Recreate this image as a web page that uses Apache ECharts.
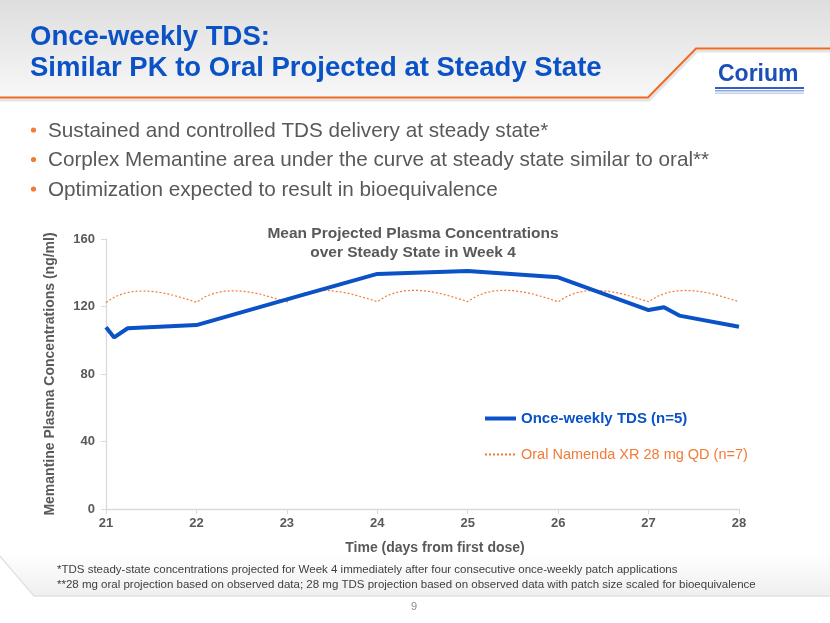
<!DOCTYPE html>
<html>
<head>
<meta charset="utf-8">
<script src="https://cdn.jsdelivr.net/npm/echarts@6/dist/echarts.min.js"></script>
<style>
html,body{margin:0;padding:0;background:#fff;}
#main{width:830px;height:623px;}
</style>
</head>
<body>
<div id="main"></div>
<script>
// ---- Data ----
const titleLines = ['Once-weekly TDS:', 'Similar PK to Oral Projected at Steady State'];
const bullets = [
  'Sustained and controlled TDS delivery at steady state*',
  'Corplex Memantine area under the curve at steady state similar to oral**',
  'Optimization expected to result in bioequivalence'
];
const chartTitle = 'Mean Projected Plasma Concentrations\nover Steady State in Week 4';
const yAxisName = 'Memantine Plasma Concentrations (ng/ml)';
const xAxisName = 'Time (days from first dose)';
const seriesNames = ['Once-weekly TDS (n=5)', 'Oral Namenda XR 28 mg QD (n=7)'];
const footnotes = [
  '*TDS steady-state concentrations projected for Week 4 immediately after four consecutive once-weekly patch applications',
  '**28 mg oral projection based on observed data; 28 mg TDS projection based on observed data with patch size scaled for bioequivalence'
];
const pageNumber = '9';

// Once-weekly TDS: [day, ng/ml]
const tdsDays   = [21, 21.09, 21.24, 22, 23, 24, 25, 26, 27, 27.17, 27.34, 28];
const tdsValues = [107.7, 101.7, 107.1, 109.0, 124.2, 139.3, 141.0, 137.3, 117.9, 119.5, 114.6, 108.0];

// Oral once-daily: values sampled at fixed offsets within each day
const oralOffsets = [0, 0.1, 0.2, 0.3, 0.4, 0.5, 0.6, 0.7, 0.8, 0.9];
const oralStartDays = [21, 22, 23, 24, 25, 26, 27];
const oralDay21 = [122.4, 125.8, 127.8, 128.9, 129.2, 129.0, 128.3, 127.3, 125.8, 124.2];
const oralDay22 = [122.5, 125.9, 127.9, 129.0, 129.3, 129.1, 128.4, 127.4, 125.9, 124.3];
const oralDay23 = [122.7, 126.1, 128.1, 129.2, 129.5, 129.3, 128.6, 127.6, 126.1, 124.6];
const oralDay24 = [122.9, 126.2, 128.2, 129.3, 129.6, 129.4, 128.7, 127.7, 126.2, 124.6];
const oralDay25 = [122.9, 126.2, 128.2, 129.3, 129.6, 129.4, 128.7, 127.7, 126.2, 124.6];
const oralDay26 = [122.8, 126.1, 128.1, 129.2, 129.5, 129.3, 128.6, 127.6, 126.1, 124.5];
const oralDay27 = [122.8, 126.1, 128.1, 129.2, 129.5, 129.3, 128.6, 127.6, 126.1, 124.5];
const oralEnd = [28, 122.9];

// ---- Build series data ----
const tdsData = tdsDays.map((d, i) => [d, tdsValues[i]]);
const oralRows = [oralDay21, oralDay22, oralDay23, oralDay24, oralDay25, oralDay26, oralDay27];
const oralData = [];
oralRows.forEach((row, k) => {
  row.forEach((v, j) => oralData.push([+(oralStartDays[k] + oralOffsets[j]).toFixed(2), v]));
});
oralData.push(oralEnd);

const FONT = '"Liberation Sans", Arial, sans-serif';
const GRAY = '#595959';
const BLUE = '#0A52C6';
const ORANGE = '#F47A36';

const chart = echarts.init(document.getElementById('main'), null, {renderer: 'canvas'});

const graphics = [
  // header background
  { type: 'polygon', z: -10, silent: true,
    shape: { points: [[0,0],[830,0],[830,48],[696,48],[648,97],[0,97]] },
    style: { fill: new echarts.graphic.LinearGradient(0, 0, 0, 1, [
      {offset: 0, color: '#DEDEDE'}, {offset: 1, color: '#F7F7F7'}]) } },
  // shadow under orange line
  { type: 'polyline', z: -9, silent: true,
    shape: { points: [[0,100],[649,100],[697,51],[830,51]] },
    style: { stroke: '#E4E4E4', lineWidth: 3, fill: null } },
  // orange line
  { type: 'polyline', z: -8, silent: true,
    shape: { points: [[0,97.5],[648,97.5],[696,48.5],[830,48.5]] },
    style: { stroke: '#EE6A24', lineWidth: 2, fill: null } },
  // footer panel
  { type: 'polygon', z: -10, silent: true,
    shape: { points: [[0,553],[830,553],[830,596],[34,596]] },
    style: { fill: new echarts.graphic.LinearGradient(0, 0, 0, 1, [
      {offset: 0, color: '#FFFFFF'}, {offset: 1, color: '#EFEFEF'}]) } },
  { type: 'polyline', z: -9, silent: true,
    shape: { points: [[0,556],[34,596],[830,596]] },
    style: { stroke: '#E2E2E2', lineWidth: 1.5, fill: null } },
  // title
  { type: 'text', x: 30, y: 37,
    style: { text: titleLines[0], font: 'bold 27.5px ' + FONT, fill: BLUE, verticalAlign: 'middle' } },
  { type: 'text', x: 30, y: 68,
    style: { text: titleLines[1], font: 'bold 27.5px ' + FONT, fill: BLUE, verticalAlign: 'middle' } },
  // logo
  { type: 'text', left: 718, top: 63,
    style: { text: 'Corium', font: 'bold 23px ' + FONT, fill: '#1B4FB8' } },
  { type: 'rect', shape: { x: 715, y: 87, width: 89, height: 2 }, style: { fill: '#2F5FC0' } },
  { type: 'rect', shape: { x: 715, y: 90, width: 89, height: 1.5 }, style: { fill: '#8FA8DD' } },
  { type: 'rect', shape: { x: 715, y: 92.5, width: 89, height: 1.5 }, style: { fill: '#C5D2EE' } },
  // x-axis title
  { type: 'text', x: 435, y: 548,
    style: { text: xAxisName, font: 'bold 14px ' + FONT, fill: GRAY, align: 'center', verticalAlign: 'middle' } },
  // page number
  { type: 'text', left: 411, top: 601,
    style: { text: pageNumber, font: '11px ' + FONT, fill: '#8C8C8C' } }
];

bullets.forEach((b, i) => {
  const cy = 130 + i * 29.5;
  graphics.push({ type: 'circle', shape: { cx: 33.5, cy: cy, r: 2.6 }, style: { fill: ORANGE } });
  graphics.push({ type: 'text', x: 48, y: cy + 1,
    style: { text: b, font: '20.7px ' + FONT, fill: GRAY, verticalAlign: 'middle' } });
});
footnotes.forEach((f, i) => {
  graphics.push({ type: 'text', x: 57, y: 570 + i * 15,
    style: { text: f, font: '11.5px ' + FONT, fill: '#404040', verticalAlign: 'middle' } });
});

const option = {
  backgroundColor: '#ffffff',
  animation: false,
  textStyle: { fontFamily: FONT },
  title: {
    text: chartTitle, left: 408, top: 219, textAlign: 'center',
    textStyle: { fontSize: 15.5, fontWeight: 'bold', color: GRAY, lineHeight: 19, fontFamily: FONT }
  },
  grid: { left: 106, right: 91, top: 239, bottom: 114, containLabel: false },
  legend: {
    orient: 'vertical', left: 478, top: 406, itemGap: 21, itemWidth: 31, itemHeight: 12,
    itemStyle: { opacity: 0 },
    data: [
      { name: seriesNames[0], lineStyle: { width: 4 },
        textStyle: { color: BLUE, fontWeight: 'bold', fontSize: 15 } },
      { name: seriesNames[1], textStyle: { color: ORANGE, fontWeight: 'normal', fontSize: 14.5 } }
    ],
    textStyle: { fontFamily: FONT }
  },
  xAxis: {
    type: 'value', min: 21, max: 28, interval: 1,
    axisLine: { lineStyle: { color: '#D9D9D9', width: 1.3 } },
    axisTick: { show: true, length: 5, lineStyle: { color: '#D9D9D9' } },
    axisLabel: { fontSize: 13, fontWeight: 'bold', color: GRAY, margin: 8, fontFamily: FONT },
    splitLine: { show: false }
  },
  yAxis: {
    type: 'value', min: 0, max: 160, interval: 40,
    name: yAxisName, nameLocation: 'middle', nameGap: 49, nameRotate: 90,
    nameTextStyle: { fontSize: 14, fontWeight: 'bold', color: GRAY, fontFamily: FONT },
    axisLine: { show: true, lineStyle: { color: '#D9D9D9', width: 1.3 } },
    axisTick: { show: true, length: 5, lineStyle: { color: '#D9D9D9' } },
    axisLabel: { fontSize: 13, fontWeight: 'bold', color: GRAY, margin: 11, fontFamily: FONT },
    splitLine: { show: false }
  },
  series: [
    { name: seriesNames[0], type: 'line', data: tdsData, symbol: 'none', z: 3,
      lineStyle: { color: BLUE, width: 4 }, itemStyle: { color: BLUE } },
    { name: seriesNames[1], type: 'line', data: oralData, symbol: 'none', z: 2,
      lineStyle: { color: ORANGE, width: 1.2, type: [2, 2] }, itemStyle: { color: ORANGE } }
  ],
  graphic: graphics
};
chart.setOption(option);
</script>
</body>
</html>
